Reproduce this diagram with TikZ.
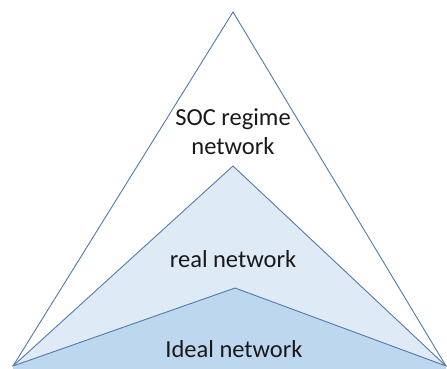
\documentclass[tikz,border=0pt]{standalone}
\usepackage{fontspec}
\setmainfont{Carlito}
\definecolor{edge}{RGB}{84,122,168}
\definecolor{midfill}{RGB}{222,234,246}
\definecolor{infill}{RGB}{189,215,238}
\begin{document}
\begin{tikzpicture}[x=1pt,y=-1pt,
  tri/.style={draw=edge,line width=0.9pt,line join=miter},
  lbl/.style={font=\fontsize{24.5}{29}\selectfont,text=black!90,align=center,inner sep=0pt}]
\useasboundingbox (0,0) rectangle (447,369);
\coordinate (L) at (13,366);
\coordinate (R) at (446,366);
\coordinate (A) at (233,12);
\coordinate (B) at (233,166);
\coordinate (C) at (235,288);
\draw[tri,fill=white] (L) -- (A) -- (R) -- cycle;
\draw[tri,fill=midfill] (L) -- (B) -- (R) -- cycle;
\draw[tri,fill=infill] (L) -- (C) -- (R);
\fill[infill] (L) -- (R) -- (446,369) -- (13,369) -- cycle;
\node[lbl] (soc) at (233,132) {SOC regime\\network};
\node[lbl] (real) at (233,259) {real network};
\node[lbl] (ideal) at (234,349) {Ideal network};
\end{tikzpicture}
\end{document}
